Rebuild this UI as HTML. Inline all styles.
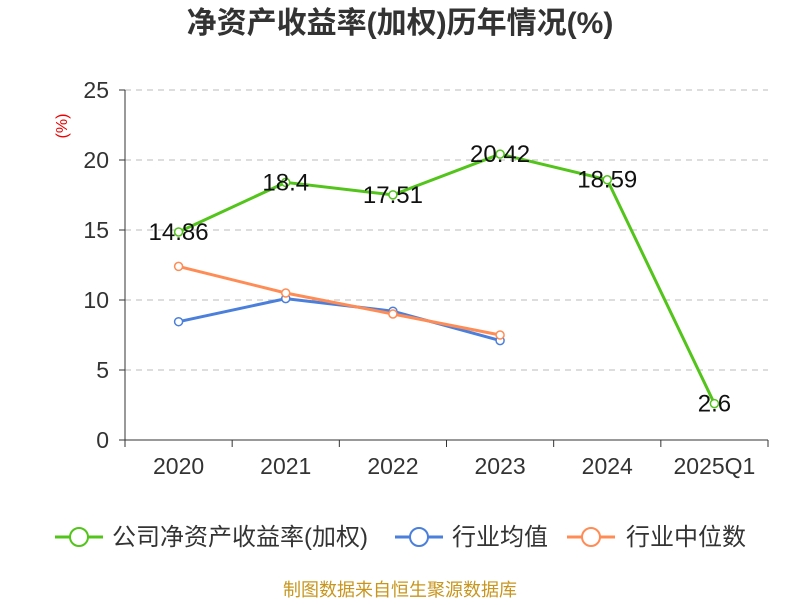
<!DOCTYPE html>
<html><head><meta charset="utf-8"><style>
body{margin:0;background:#fff;width:800px;height:600px;overflow:hidden;font-family:"Liberation Sans","Noto Sans CJK SC",sans-serif}
</style></head><body>
<svg id="c" width="800" height="600" xmlns="http://www.w3.org/2000/svg">
<text x="400" y="33" text-anchor="middle" font-size="30" font-weight="bold" fill="#333" font-family="Liberation Sans,Noto Sans CJK SC,sans-serif">净资产收益率(加权)历年情况(%)</text>
<text x="67" y="126" text-anchor="middle" font-size="16" fill="#e00" transform="rotate(-90 67 126)">(%)</text>
<g id="grid"></g><g id="axes"></g><g id="series"></g><g id="labels"></g>
<g font-size="24" fill="#333">
<g><line x1="55" y1="537" x2="103" y2="537" stroke="#52c41a" stroke-width="3"/><circle cx="79" cy="537" r="9" fill="#fff" stroke="#52c41a" stroke-width="2"/><text x="112" y="545">公司净资产收益率(加权)</text></g>
<g><line x1="395" y1="537" x2="443" y2="537" stroke="#4a7fdc" stroke-width="3"/><circle cx="419" cy="537" r="9" fill="#fff" stroke="#4a7fdc" stroke-width="2"/><text x="452" y="545">行业均值</text></g>
<g><line x1="567" y1="537" x2="615" y2="537" stroke="#ff8c55" stroke-width="3"/><circle cx="591" cy="537" r="9" fill="#fff" stroke="#ff8c55" stroke-width="2"/><text x="626" y="545">行业中位数</text></g>
</g>
<text x="400" y="596" text-anchor="middle" font-size="18" fill="#c8961e">制图数据来自恒生聚源数据库</text>
</svg>
<script>
const categories=["2020","2021","2022","2023","2024","2025Q1"];
const roeValues=[14.86,18.4,17.51,20.42,18.59,2.6];
const roeLabels=["14.86","18.4","17.51","20.42","18.59","2.6"];
const avgValues=[8.45,10.1,9.2,7.1];
const medianValues=[12.4,10.5,9.0,7.5];
const yTicks=[0,5,10,15,20,25];
const NS="http://www.w3.org/2000/svg";
const x0=125,x1=768,y0=440,y1=90,yMax=25;
const step=(x1-x0)/categories.length;
const xs=i=>x0+step*(i+0.5);
const ys=v=>y0-(v/yMax)*(y0-y1);
function mk(t,a,p){const e=document.createElementNS(NS,t);for(const k in a)e.setAttribute(k,a[k]);p.appendChild(e);return e;}
const grid=document.getElementById('grid'),axes=document.getElementById('axes'),ser=document.getElementById('series'),lab=document.getElementById('labels');
yTicks.forEach(t=>{
 if(t>0){const g=mk('line',{x1:x0,x2:x1,y1:ys(t),y2:ys(t),stroke:'#bbb','stroke-dasharray':'6,5'},grid);
 
 }
 const tk=mk('line',{x1:x0-6,x2:x0,y1:ys(t),y2:ys(t),stroke:'#333'},axes);
 
 
 const tx=mk('text',{x:x0-16,y:ys(t)+8,'text-anchor':'end','font-size':23,fill:'#333'},axes);tx.textContent=t;
 
 
});
const ya=mk('line',{x1:x0,x2:x0,y1:y1,y2:y0,stroke:'#333'},axes);


const xa=mk('line',{x1:x0,x2:x1,y1:y0,y2:y0,stroke:'#333'},axes);


for(let i=0;i<=categories.length;i++){const t=mk('line',{x1:x0+step*i,x2:x0+step*i,y1:y0,y2:y0+7,stroke:'#333'},axes);
 
 }
categories.forEach((c,i)=>{const t=mk('text',{x:xs(i),y:y0+34,'text-anchor':'middle','font-size':23,fill:'#333'},axes);t.textContent=c;
 
 });
function series(vals,color,name){
 const p=mk('polyline',{points:vals.map((v,i)=>xs(i)+','+ys(v)).join(' '),fill:'none',stroke:color,'stroke-width':3},ser);
 
 
 vals.forEach((v,i)=>{const c=mk('circle',{cx:xs(i),cy:ys(v),r:4,fill:'#fff',stroke:color,'stroke-width':1.5},ser);
  
  });
}
series(avgValues,'#4a7fdc','industry-avg');
series(medianValues,'#ff8c55','industry-median');
series(roeValues,'#52c41a','roe');
roeValues.forEach((v,i)=>{const t=mk('text',{x:xs(i),y:ys(v)+8,'text-anchor':'middle','font-size':24,fill:'#111'},lab);t.textContent=roeLabels[i];
 
 });
</script>
</body></html>
